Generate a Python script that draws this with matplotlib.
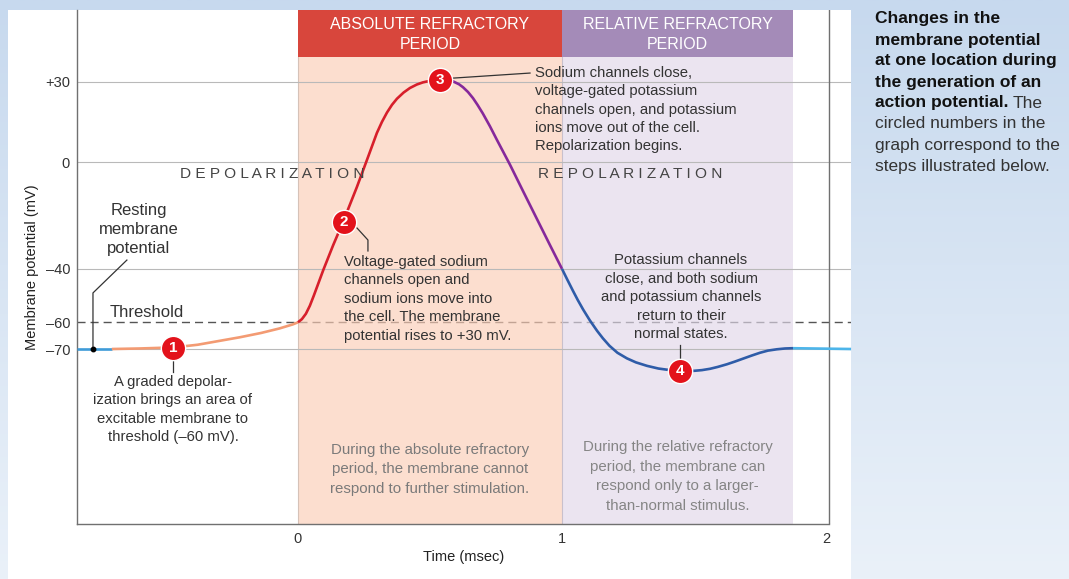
import matplotlib
matplotlib.use('Agg')
import matplotlib.pyplot as plt
import numpy as np
from matplotlib.patches import Rectangle
from matplotlib.colors import LinearSegmentedColormap

plt.rcParams['font.family'] = ['Liberation Sans', 'DejaVu Sans']

# ---------------- data ----------------
y_ticks = [30, 0, -40, -60, -70]
y_tick_labels = ['+30', '0', '\u201340', '\u201360', '\u201370']
grid_levels = [30, 0, -40, -70]
threshold = -60
x_ticks = [0, 1, 2]
x_tick_labels = ['0', '1', '2']

# resting potential (before stimulus)
rest_t = [-0.837, -0.705]
rest_v = [-70, -70]
# graded depolarization
graded_t = [-0.705, -0.60, -0.47, -0.38, -0.30, -0.22, -0.14, -0.07, -0.02, 0.0]
graded_v = [-70, -69.8, -69.4, -68.4, -67.0, -65.6, -64.0, -62.3, -60.8, -60.0]
# depolarization (rising phase)
rise_t = [0.0, 0.015, 0.03, 0.045, 0.06, 0.075, 0.096, 0.133, 0.170, 0.223, 0.261,
          0.299, 0.318, 0.337, 0.356, 0.375, 0.40, 0.424, 0.45, 0.473, 0.50, 0.527, 0.56]
rise_v = [-60.0, -58.8, -56.8, -53.8, -50.0, -46.0, -40.4, -31.2, -22.6, -9.4, 0.7,
          10.9, 15.0, 18.5, 21.4, 23.7, 26.0, 27.7, 29.0, 29.8, 30.4, 30.8, 30.9]
# repolarization (absolute refractory part)
fall_t = [0.56, 0.587, 0.61, 0.625, 0.644, 0.663, 0.68, 0.70, 0.727, 0.754, 0.803,
          0.852, 0.905, 0.955, 1.0]
fall_v = [30.9, 30.2, 29.1, 28.0, 26.2, 23.9, 21.4, 18.2, 13.4, 8.2, -1.0,
          -10.8, -21.3, -31.2, -40.0]
# repolarization / hyperpolarization (relative refractory part)
hyper_t = [1.0, 1.02, 1.042, 1.06, 1.08, 1.105, 1.133, 1.155, 1.18, 1.21, 1.246, 1.28,
           1.322, 1.365, 1.409, 1.45, 1.496, 1.53, 1.561, 1.59, 1.625, 1.655, 1.686,
           1.72, 1.75, 1.78, 1.814, 1.845, 1.875]
hyper_v = [-40.0, -44.0, -48.3, -51.7, -55.2, -59.2, -63.2, -66.0, -68.8, -71.4, -73.5,
           -75.0, -76.3, -77.3, -77.9, -78.2, -78.2, -77.9, -77.4, -76.7, -75.7, -74.7,
           -73.6, -72.4, -71.4, -70.6, -70.1, -69.8, -69.7]
# return to rest
after_t = [1.875, 2.095]
after_v = [-69.7, -70]

# circled step markers
step_t = [-0.4735, 0.174, 0.538, 1.447]
step_v = [-69.6, -22.5, 30.7, -78.2]
step_labels = ['1', '2', '3', '4']

# refractory periods (msec)
abs_period = (0.0, 1.0)
rel_period = (1.0, 1.875)

# ---------------- figure ----------------
W, H = 1069, 579
fig = plt.figure(figsize=(W / 100, H / 100), dpi=100)

bg = fig.add_axes([0, 0, 1, 1], zorder=-10)
bg.set_xlim(0, W)
bg.set_ylim(H, 0)
bg.axis('off')
grad = np.linspace(0, 1, 256).reshape(-1, 1)
cmap = LinearSegmentedColormap.from_list('bgblue', ['#c7d9ee', '#eaf1f9'])
bg.imshow(grad, extent=[0, W, H, 0], cmap=cmap, aspect='auto')
bg.add_patch(Rectangle((8, 10), 843, H - 10, facecolor='white', edgecolor='none'))

ax = fig.add_axes([77 / W, 55 / H, 774 / W, 514 / H])
ax.set_facecolor('none')
xmin, xmax = -0.837, 2.0947
ymin, ymax = -135.5, 56.9
ax.set_xlim(xmin, xmax)
ax.set_ylim(ymin, ymax)

spine_col = '#707070'
for s in ['top', 'right']:
    ax.spines[s].set_visible(False)
ax.spines['left'].set_color(spine_col)
ax.spines['left'].set_linewidth(1.0)
ax.spines['bottom'].set_color(spine_col)
ax.spines['bottom'].set_linewidth(1.0)
ax.spines['bottom'].set_bounds(xmin, 2.01)
ax.axvline(2.01, color=spine_col, lw=1.0, zorder=3)

ax.set_yticks(y_ticks, y_tick_labels)
ax.set_xticks(x_ticks, x_tick_labels)
ax.tick_params(axis='y', length=0, pad=5, labelsize=10.5, labelcolor='#333333')
ax.tick_params(axis='x', length=0, pad=6, labelsize=10.5, labelcolor='#333333')
ax.set_ylabel('Membrane potential (mV)', fontsize=10.5, color='#222222', labelpad=4)
ax.set_xlabel('Time (msec)', fontsize=10.5, color='#222222', labelpad=3)

# gridlines
for g in grid_levels:
    ax.axhline(g, color='#b9b9b9', lw=0.8, zorder=2.5)
ax.axhline(threshold, color='#555555', lw=1.0, ls=(0, (5.8, 3.6)), zorder=1.5)

# shaded refractory periods
hdr_bottom = 39.3
ax.add_patch(Rectangle((abs_period[0], ymin), abs_period[1] - abs_period[0], hdr_bottom - ymin,
                       facecolor='#fbcdb6', alpha=0.66, edgecolor='none', zorder=2))
ax.add_patch(Rectangle((rel_period[0], ymin), rel_period[1] - rel_period[0], hdr_bottom - ymin,
                       facecolor='#e1d7e9', alpha=0.66, edgecolor='none', zorder=2))
ax.plot([abs_period[0], abs_period[0]], [ymin, hdr_bottom], color='#d6c2b8', lw=0.8, zorder=2.2)
ax.plot([rel_period[0], rel_period[0]], [ymin, hdr_bottom], color='#c9c0cc', lw=0.8, zorder=2.2)
ax.add_patch(Rectangle((abs_period[0], hdr_bottom), abs_period[1] - abs_period[0], ymax - hdr_bottom,
                       facecolor='#d8463c', edgecolor='none', zorder=3))
ax.add_patch(Rectangle((rel_period[0], hdr_bottom), rel_period[1] - rel_period[0], ymax - hdr_bottom,
                       facecolor='#a48bb8', edgecolor='none', zorder=3))
for cx, txt in [((abs_period[0] + abs_period[1]) / 2, ['ABSOLUTE REFRACTORY', 'PERIOD']),
                ((rel_period[0] + rel_period[1]) / 2, ['RELATIVE REFRACTORY', 'PERIOD'])]:
    for i, s in enumerate(txt):
        ax.annotate(s, (cx, 51.3), xytext=(0, -i * 20 * 0.72), textcoords='offset points',
                    ha='center', va='center', fontsize=11.5, color='white', zorder=4,
                    annotation_clip=False)

# membrane potential curve
lw = 1.9
kw = dict(lw=lw, solid_capstyle='butt', solid_joinstyle='round', zorder=4)
ax.plot(rest_t, rest_v, color='#3f9bd8', **kw)
ax.plot(graded_t, graded_v, color='#f39b73', **kw)
ax.plot(rise_t, rise_v, color='#d71f2b', **kw)
ax.plot(fall_t, fall_v, color='#86299b', **kw)
ax.plot(hyper_t, hyper_v, color='#2f5ca8', **kw)
ax.plot(after_t, after_v, color='#4db5ea', clip_on=False, **kw)

# circled numbers
ax.plot(step_t, step_v, 'o', ms=17.5, mfc='#e3121b', mec='white', mew=1.0, zorder=6, ls='none')
for t, v, lab in zip(step_t, step_v, step_labels):
    ax.text(t, v, lab, ha='center', va='center', fontsize=11, fontweight='bold',
            color='white', zorder=7)

txt_col = '#333333'
lead = dict(color='#333333', lw=0.9, zorder=5)


def stack(x, y, lines, step_px, ha='left', size=10.7, color=txt_col):
    for i, s in enumerate(lines):
        ax.annotate(s, (x, y), xytext=(0, -i * step_px * 0.72), textcoords='offset points',
                    ha=ha, va='center', fontsize=size, color=color, zorder=7,
                    annotation_clip=False)


# resting membrane potential
stack(-0.602, -18.0, ['Resting', 'membrane', 'potential'], 19, ha='center', size=12)
ax.plot([-0.648, -0.7765, -0.7765], [-36.7, -49.0, -70.0], **lead)
ax.plot([-0.7765], [-70], 'o', color='black', ms=3.2, zorder=6)
ax.text(-0.712, -56.2, 'Threshold', ha='left', va='center', fontsize=12, color=txt_col, zorder=7)

# step 1
ax.plot([step_t[0], step_t[0]], [-74.1, -78.6], **lead)
stack(-0.4735, -82.4, ['A graded depolar-', 'ization brings an area of',
                       'excitable membrane to', 'threshold (\u201360 mV).'], 18.3, ha='center')
# step 2
ax.plot([0.2235, 0.265, 0.265], [-24.7, -29.2, -33.3], **lead)
stack(0.174, -37.4, ['Voltage-gated sodium', 'channels open and', 'sodium ions move into',
                     'the cell. The membrane', 'potential rises to +30 mV.'], 18.5)
# step 3
ax.plot([0.587, 0.879], [31.4, 33.3], **lead)
stack(0.898, 33.3, ['Sodium channels close,', 'voltage-gated potassium',
                    'channels open, and potassium', 'ions move out of the cell.',
                    'Repolarization begins.'], 18.3)
# step 4
ax.plot([step_t[3], step_t[3]], [-68.5, -73.4], **lead)
stack(1.451, -36.7, ['Potassium channels', 'close, and both sodium',
                     'and potassium channels', 'return to their', 'normal states.'], 18.5,
      ha='center')

# phase labels
ax.text(-0.098, -4.5, ' '.join('DEPOLARIZATION'), ha='center', va='center',
        fontsize=11.1, color='#444444', zorder=7)
ax.text(1.258, -4.5, ' '.join('REPOLARIZATION'), ha='center', va='center',
        fontsize=11.1, color='#444444', zorder=7)

# notes in refractory periods
stack(0.5, -107.8, ['During the absolute refractory', 'period, the membrane cannot',
                    'respond to further stimulation.'], 19.3, ha='center', size=10.8,
      color='#7a7a7a')
stack(1.4375, -106.7, ['During the relative refractory', 'period, the membrane can',
                       'respond only to a larger-', 'than-normal stimulus.'], 19.5,
      ha='center', size=10.8, color='#858585')

# caption
cap_x = 875 / W
cap_y0 = 19
cap_step = 21
bold_lines = ['Changes in the', 'membrane potential', 'at one location during',
              'the generation of an', 'action potential.']
reg_lines = ['circled numbers in the', 'graph correspond to the', 'steps illustrated below.']
last_bold = None
for i, s in enumerate(bold_lines):
    last_bold = fig.text(cap_x, 1 - (cap_y0 + i * cap_step) / H, s, ha='left', va='center',
                         fontsize=12.5, fontweight='bold', color='#111111')
fig.canvas.draw()
bb = last_bold.get_window_extent(fig.canvas.get_renderer())
fig.text(bb.x1 / W + 4 / W, 1 - (cap_y0 + 4 * cap_step) / H, 'The', ha='left', va='center',
         fontsize=12.5, color='#333333')
for j, s in enumerate(reg_lines):
    fig.text(cap_x, 1 - (cap_y0 + (5 + j) * cap_step) / H, s, ha='left', va='center',
             fontsize=12.5, color='#333333')

fig.savefig('out.png', dpi=100)
